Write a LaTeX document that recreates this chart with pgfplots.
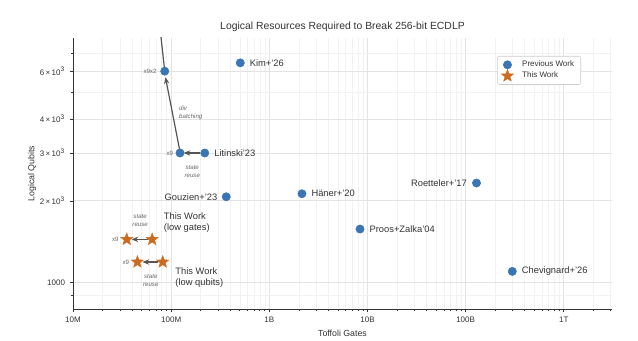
\documentclass[border=0pt]{standalone}
\usepackage{fontspec}
\setmainfont{Liberation Sans}
\usepackage{pgfplots}
\pgfplotsset{compat=1.18}
\usetikzlibrary{arrows.meta,calc}
\definecolor{pblue}{HTML}{3A76B3}
\definecolor{porange}{HTML}{CC6A1E}
\definecolor{txt}{HTML}{333333}
\definecolor{ann}{HTML}{666666}
\definecolor{arr}{HTML}{555555}
\pgfdeclareplotmark{fstar}{%
  \pgfpathmoveto{\pgfpointpolar{90}{\pgfplotmarksize}}%
  \pgfpathlineto{\pgfpointpolar{126}{0.42\pgfplotmarksize}}%
  \pgfpathlineto{\pgfpointpolar{162}{\pgfplotmarksize}}%
  \pgfpathlineto{\pgfpointpolar{198}{0.42\pgfplotmarksize}}%
  \pgfpathlineto{\pgfpointpolar{234}{\pgfplotmarksize}}%
  \pgfpathlineto{\pgfpointpolar{270}{0.42\pgfplotmarksize}}%
  \pgfpathlineto{\pgfpointpolar{306}{\pgfplotmarksize}}%
  \pgfpathlineto{\pgfpointpolar{342}{0.42\pgfplotmarksize}}%
  \pgfpathlineto{\pgfpointpolar{18}{\pgfplotmarksize}}%
  \pgfpathlineto{\pgfpointpolar{54}{0.42\pgfplotmarksize}}%
  \pgfpathclose
  \pgfusepathqfillstroke
}
\begin{document}
\begin{tikzpicture}
\begin{axis}[
  name=ax,
  scale only axis,
  width=404.25pt, height=203.25pt,
  at={(0,0)}, anchor=south west,
  xmode=log, ymode=log,
  xmin=1e7, xmax=3.1e12, ymin=800, ymax=7950,
  axis x line*=bottom, axis y line*=left,
  axis line style={-, draw=txt, line width=0.6pt},
  tick align=outside,
  major tick length=2.5pt, minor tick length=1.5pt,
  tick style={draw=txt, line width=0.5pt},
  xtick={1e7,1e8,1e9,1e10,1e11,1e12},
  xticklabels={10M,100M,1B,10B,100B,1T},
  minor xtick={2e7,3e7,4e7,5e7,6e7,7e7,8e7,9e7,2e8,3e8,4e8,5e8,6e8,7e8,8e8,9e8,2e9,3e9,4e9,5e9,6e9,7e9,8e9,9e9,2e10,3e10,4e10,5e10,6e10,7e10,8e10,9e10,2e11,3e11,4e11,5e11,6e11,7e11,8e11,9e11,2e12,3e12},
  ytick={1000,2000,3000,4000,6000},
  yticklabels={1000,{2\,×\,10\textsuperscript{3}},{3\,×\,10\textsuperscript{3}},{4\,×\,10\textsuperscript{3}},{6\,×\,10\textsuperscript{3}}},
  minor ytick={900,5000,7000},
  ticklabel style={font=\fontsize{6}{7}\selectfont, text=txt},
  /pgf/number format/assume math mode=true,
  grid=both,
  major grid style={draw=black!11, line width=0.6pt},
  minor grid style={draw=black!5, line width=0.4pt},
  clip=true,
  legend style={at={(0.9425,0.9336)}, anchor=north east, draw=black!20, rounded corners=1.5pt, fill=white, font=\fontsize{6}{7}\selectfont, text=txt, row sep=-1.5pt, inner xsep=3pt, inner ysep=1.5pt},
  legend cell align=left,
]
% Previous work
\addplot[only marks, mark=*, mark size=3.1pt, color=pblue, mark options={draw=pblue, fill=pblue}] coordinates {
 (5.06e8,6440) (8.6e7,6000) (1.23e8,3000) (2.2e8,3000) (3.64e8,2070)
 (2.15e9,2124) (1.29e11,2326) (8.4e9,1575) (2.99e11,1100)
};
\addlegendentry{\hspace{4.5pt}Previous Work}
% This work
\addplot[only marks, mark=fstar, mark size=4.8pt, color=porange, mark options={draw=porange, fill=porange, line width=0.3pt}] coordinates {
 (3.53e7,1443) (6.4e7,1443) (4.53e7,1191) (8.2e7,1191)
};
\addlegendentry{\hspace{4.5pt}This Work}

% arrows / lines
\draw[arr, line width=0.9pt] (axis cs:8.6e7,6000) -- (axis cs:7.6e7,9000);
\draw[arr, line width=0.9pt, -{Stealth[length=5pt,width=4pt]}] (axis cs:1.22e8,3080) -- (axis cs:8.75e7,5700);
\draw[arr, line width=1.1pt, -{Stealth[length=5pt,width=4pt]}] (axis cs:1.98e8,3000) -- (axis cs:1.34e8,3000);
\draw[arr, line width=1.1pt, -{Stealth[length=5pt,width=4pt]}] (axis cs:5.8e7,1443) -- (axis cs:3.95e7,1443);
\draw[arr, line width=1.1pt, -{Stealth[length=5pt,width=4pt]}] (axis cs:7.4e7,1191) -- (axis cs:5.1e7,1191);

% point labels
\begin{scope}[every node/.style={text=txt, font=\fontsize{7}{8}\selectfont, inner sep=0pt}]
\node[anchor=west] at (axis cs:5.06e8,6440) [xshift=7pt] {Kim+'26};
\node[anchor=west] at (axis cs:2.2e8,3000) [xshift=7pt] {Litinski'23};
\node[anchor=east] at (axis cs:3.64e8,2070) [xshift=-6.5pt] {Gouzien+'23};
\node[anchor=west] at (axis cs:2.15e9,2124) [xshift=7pt] {Häner+'20};
\node[anchor=east] at (axis cs:1.29e11,2326) [xshift=-7pt] {Roetteler+'17};
\node[anchor=west] at (axis cs:8.4e9,1575) [xshift=7pt] {Proos+Zalka'04};
\node[anchor=west] at (axis cs:2.99e11,1100) [xshift=7pt] {Chevignard+'26};
\node[anchor=west, align=left] at (axis cs:8.4e7,1662) {This Work\\(low gates)};
\node[anchor=west, align=left] at (axis cs:1.1e8,1045) {This Work\\(low qubits)};
\end{scope}

% annotations
\begin{scope}[every node/.style={text=ann, font=\fontsize{4.6}{5.4}\selectfont, inner sep=0pt}]
\node[anchor=east] at (axis cs:8.6e7,6000) [xshift=-6pt] {x9x2};
\node[anchor=east] at (axis cs:1.23e8,3000) [xshift=-5pt] {x9};
\node[anchor=east] at (axis cs:3.53e7,1443) [xshift=-6pt] {x9};
\node[anchor=east] at (axis cs:4.53e7,1191) [xshift=-6pt] {x9};
\node[anchor=west, align=left, font=\fontsize{4.6}{5.6}\selectfont\itshape] at (axis cs:1.2e8,4217) {div\\batching};
\node[align=center, font=\fontsize{4.6}{5.6}\selectfont\itshape] at (axis cs:1.64e8,2568) {state\\reuse};
\node[align=center, font=\fontsize{4.6}{5.6}\selectfont\itshape] at (axis cs:4.83e7,1690) {state\\reuse};
\node[align=center, font=\fontsize{4.6}{5.6}\selectfont\itshape] at (axis cs:6.2e7,1019) {state\\reuse};
\end{scope}
\end{axis}
% title and axis labels
\node[text=txt, font=\fontsize{7.8}{9}\selectfont] at ($(ax.north)+(0,8.25pt)$) {Logical Resources Required to Break 256-bit ECDLP};
\node[text=txt, font=\fontsize{6.6}{8}\selectfont] at ($(ax.south)+(0,-18pt)$) {Toffoli Gates};
\node[text=txt, font=\fontsize{6.6}{8}\selectfont, rotate=90] at ($(ax.west)+(-30.75pt,0)$) {Logical Qubits};
\path[use as bounding box] (-54.75pt,-21.75pt) rectangle (423.75pt,231.75pt);
\end{tikzpicture}
\end{document}
